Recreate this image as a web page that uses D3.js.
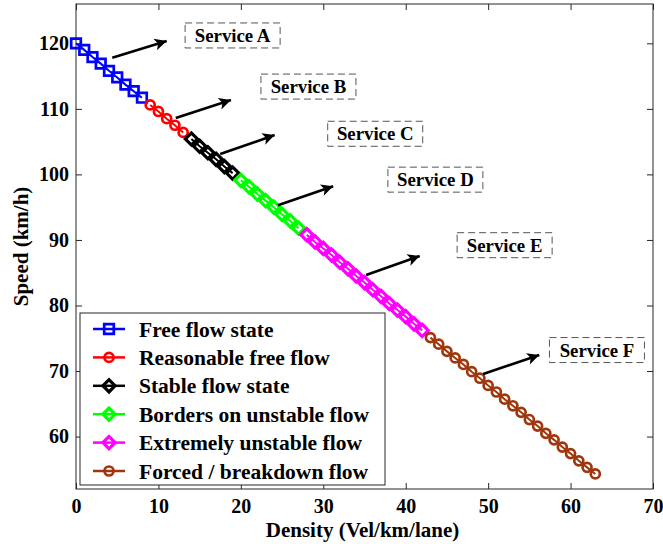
<!DOCTYPE html>
<html>
<head>
<meta charset="utf-8">
<script src="https://cdn.jsdelivr.net/npm/d3@7"></script>
<style>
  html, body { margin: 0; padding: 0; background: #fff; }
  svg { display: block; }
  text { font-family: "Liberation Serif", "Times New Roman", serif; font-weight: bold; fill: #000; }
</style>
</head>
<body>
<svg id="chart" width="663" height="544"></svg>
<script>
// Speed–density points for each level-of-service regime
const densityA = [0, 1, 2, 3, 4, 5, 6, 7, 8];
const speedA   = [120.0, 119.0, 117.9, 116.9, 115.8, 114.8, 113.7, 112.7, 111.7];
const densityB = [9, 10, 11, 12, 13];
const speedB   = [110.6, 109.6, 108.5, 107.5, 106.4];
const densityC = [14, 15, 16, 17, 18, 19];
const speedC   = [105.4, 104.3, 103.3, 102.3, 101.2, 100.2];
const densityD = [20, 21, 22, 23, 24, 25, 26, 27];
const speedD   = [99.1, 98.1, 97.0, 96.0, 95.0, 93.9, 92.9, 91.8];
const densityE = [28, 29, 30, 31, 32, 33, 34, 35, 36, 37, 38, 39, 40, 41, 42];
const speedE   = [90.8, 89.7, 88.7, 87.7, 86.6, 85.6, 84.5, 83.5, 82.4, 81.4, 80.3, 79.3, 78.3, 77.2, 76.2];
const densityF = [43, 44, 45, 46, 47, 48, 49, 50, 51, 52, 53, 54, 55, 56, 57, 58, 59, 60, 61, 62, 63];
const speedF   = [75.1, 74.1, 73.0, 72.0, 71.0, 69.9, 68.9, 67.8, 66.8, 65.7, 64.7, 63.7, 62.6, 61.6, 60.5, 59.5, 58.4, 57.4, 56.3, 55.3, 54.3];

const seriesNames = ["Free flow state", "Reasonable free flow", "Stable flow state",
                     "Borders on unstable flow", "Extremely unstable flow", "Forced / breakdown flow"];

const xTicks = [0, 10, 20, 30, 40, 50, 60, 70];
const yTicks = [60, 70, 80, 90, 100, 110, 120];

// Service level callouts (label centre, arrow tail, arrow head) in data units
const serviceLabels = ["Service A", "Service B", "Service C", "Service D", "Service E", "Service F"];
const serviceLabelX = [19.0, 28.2, 36.3, 43.6, 52.0, 63.2];
const serviceLabelY = [121.2, 113.4, 106.2, 99.2, 89.2, 73.2];
const arrowFromX = [4.4, 12.1, 17.5, 24.5, 35.2, 49.4];
const arrowFromY = [117.8, 108.6, 103.1, 95.3, 84.65, 69.55];
const arrowToX   = [11.0, 18.8, 24.1, 31.2, 41.7, 56.2];
const arrowToY   = [120.35, 111.35, 106.0, 98.2, 87.55, 72.45];

// Styling per series
const seriesColors = ["#0000ff", "#ff0000", "#000000", "#00ff00", "#ff00ff", "#a0360c"];
const seriesMarkers = ["square", "circle", "diamond", "diamond", "diamond", "circle"];

const series = [
  [densityA, speedA], [densityB, speedB], [densityC, speedC],
  [densityD, speedD], [densityE, speedE], [densityF, speedF]
].map(([ks, vs], i) => ({
  name: seriesNames[i],
  color: seriesColors[i],
  marker: seriesMarkers[i],
  points: ks.map((k, j) => ({ k, v: vs[j] }))
}));

const margin = { left: 76, right: 10, top: 4, bottom: 55 };
const W = 663, H = 544;
const x = d3.scaleLinear().domain([0, 70]).range([margin.left, W - margin.right]);
const y = d3.scaleLinear().domain([52, 126]).range([H - margin.bottom, margin.top]);

const svg = d3.select("#chart");
const axisColor = "#262626";

function markerPath(type) {
  if (type === "square") return d3.symbol(d3.symbolSquare, 92)();
  if (type === "circle") return d3.symbol(d3.symbolCircle, 64)();
  return d3.symbol(d3.symbolSquare, 74)();
}
function markerTransform(type, px, py) {
  return type === "diamond" ? `translate(${px},${py}) rotate(45)` : `translate(${px},${py})`;
}
function markerWidth(type) {
  return type === "diamond" ? 3.2 : 2.7;
}

// Axes with inward ticks on all four sides
const tickLen = 6;
const axBottom = d3.axisBottom(x).tickValues(xTicks).tickSizeInner(-tickLen).tickSizeOuter(0).tickPadding(10);
const axTop = d3.axisTop(x).tickValues(xTicks).tickSizeInner(-tickLen).tickSizeOuter(0).tickFormat("");
const axLeft = d3.axisLeft(y).tickValues(yTicks).tickSizeInner(-tickLen).tickSizeOuter(0).tickPadding(7);
const axRight = d3.axisRight(y).tickValues(yTicks).tickSizeInner(-tickLen).tickSizeOuter(0).tickFormat("");

function styleAxis(g) {
  g.select(".domain").remove();
  g.selectAll(".tick line").attr("stroke", axisColor).attr("stroke-width", 1);
  g.selectAll(".tick text").style("font-size", "20px").attr("fill", "#000");
}

svg.append("g").attr("transform", `translate(0,${y.range()[0]})`).call(axBottom).call(styleAxis)
  .selectAll(".tick line").attr("y1", 0).attr("y2", -tickLen);
svg.append("g").attr("transform", `translate(0,${y.range()[1]})`).call(axTop).call(styleAxis)
  .selectAll(".tick line").attr("y1", 0).attr("y2", tickLen);
svg.append("g").attr("transform", `translate(${x.range()[0]},0)`).call(axLeft).call(styleAxis)
  .selectAll(".tick line").attr("x1", 0).attr("x2", tickLen);
svg.append("g").attr("transform", `translate(${x.range()[1]},0)`).call(axRight).call(styleAxis)
  .selectAll(".tick line").attr("x1", 0).attr("x2", -tickLen);

// Box around plot area
svg.append("rect")
  .attr("x", x.range()[0]).attr("y", y.range()[1])
  .attr("width", x.range()[1] - x.range()[0]).attr("height", y.range()[0] - y.range()[1])
  .attr("fill", "none").attr("stroke", axisColor).attr("stroke-width", 1);

// Axis titles
svg.append("text")
  .attr("x", (x.range()[0] + x.range()[1]) / 2 - 2).attr("y", 537)
  .attr("text-anchor", "middle").style("font-size", "21px")
  .text("Density (Vel/km/lane)");
svg.append("text")
  .attr("transform", `translate(28,${(y.range()[0] + y.range()[1]) / 2}) rotate(-90)`)
  .attr("text-anchor", "middle").style("font-size", "21px")
  .text("Speed (km/h)");

// Series: connecting line + hollow markers
const line = d3.line().x(d => x(d.k)).y(d => y(d.v));
series.forEach(s => {
  const g = svg.append("g");
  g.append("path").datum(s.points).attr("d", line)
    .attr("fill", "none").attr("stroke", s.color).attr("stroke-width", 2);
  g.selectAll("path.m").data(s.points).join("path").attr("class", "m")
    .attr("d", markerPath(s.marker))
    .attr("transform", d => markerTransform(s.marker, x(d.k), y(d.v)))
    .attr("fill", "none").attr("stroke", s.color).attr("stroke-width", markerWidth(s.marker));
});

// Service callouts
svg.append("defs").append("marker")
  .attr("id", "head").attr("viewBox", "0 0 10 10").attr("refX", 10).attr("refY", 5)
  .attr("markerUnits", "userSpaceOnUse").attr("markerWidth", 15).attr("markerHeight", 12)
  .attr("orient", "auto")
  .append("path").attr("d", "M0,0 L10,5 L0,10 L2.5,5 Z").attr("fill", "#000");

serviceLabels.forEach((label, i) => {
  svg.append("line")
    .attr("x1", x(arrowFromX[i])).attr("y1", y(arrowFromY[i]))
    .attr("x2", x(arrowToX[i])).attr("y2", y(arrowToY[i]))
    .attr("stroke", "#000").attr("stroke-width", 2.6)
    .attr("marker-end", "url(#head)");
  const cx = x(serviceLabelX[i]), cy = y(serviceLabelY[i]);
  const g = svg.append("g");
  g.append("rect")
    .attr("x", cx - 47.5).attr("y", cy - 12.5)
    .attr("width", 95).attr("height", 25)
    .attr("fill", "none").attr("stroke", "#555").attr("stroke-width", 1)
    .attr("stroke-dasharray", "7,4");
  g.append("text")
    .attr("x", cx).attr("y", cy).attr("dy", "0.35em")
    .attr("text-anchor", "middle").style("font-size", "18.8px")
    .text(label);
});

// Legend
const lg = svg.append("g");
const lgX = 80, lgY = 313, lgW = 305, lgH = 172, rowH = 28.4;
lg.append("rect").attr("x", lgX).attr("y", lgY).attr("width", lgW).attr("height", lgH)
  .attr("fill", "#fff").attr("stroke", axisColor).attr("stroke-width", 1);
series.forEach((s, i) => {
  const ry = lgY + 16 + i * rowH;
  lg.append("line").attr("x1", 93).attr("x2", 125).attr("y1", ry).attr("y2", ry)
    .attr("stroke", s.color).attr("stroke-width", 2.5);
  lg.append("path").attr("d", markerPath(s.marker))
    .attr("transform", markerTransform(s.marker, 109, ry))
    .attr("fill", "none").attr("stroke", s.color).attr("stroke-width", markerWidth(s.marker));
  lg.append("text").attr("x", 139).attr("y", ry).attr("dy", "0.35em")
    .style("font-size", "21.5px").text(s.name);
});
</script>
</body>
</html>
